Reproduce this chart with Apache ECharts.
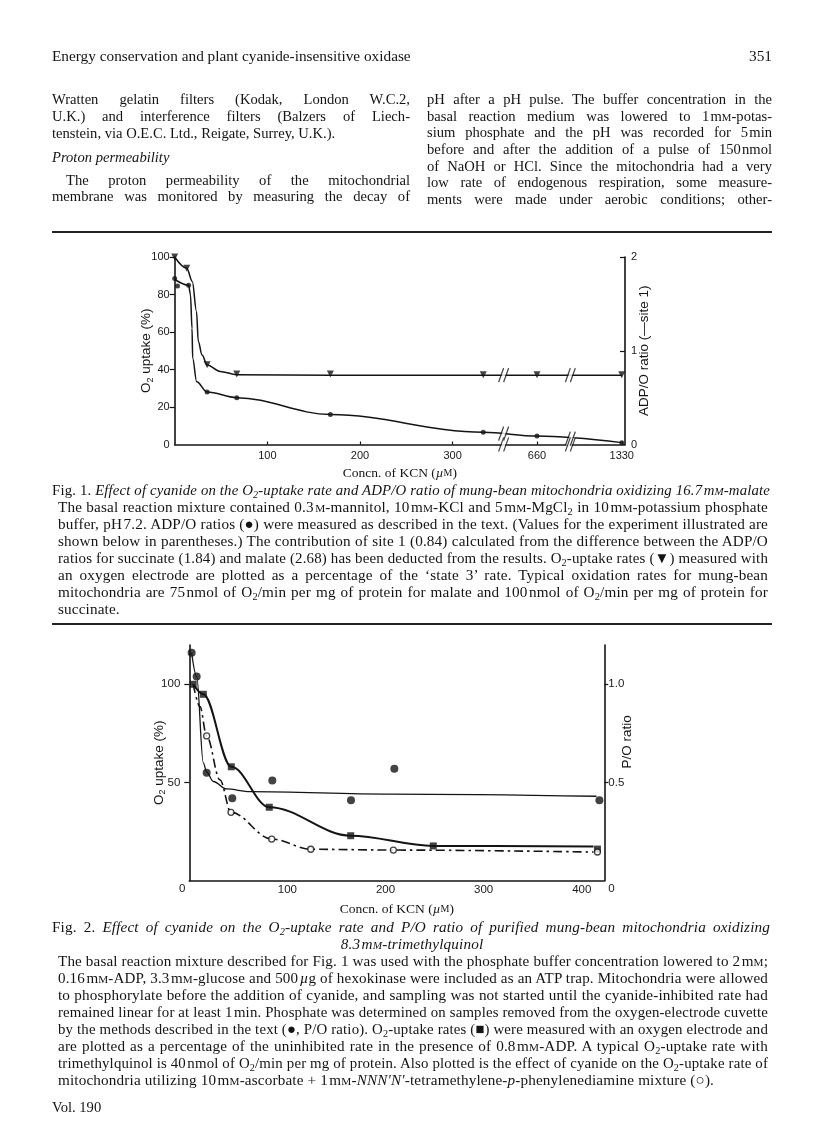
<!DOCTYPE html>
<html><head><meta charset="utf-8">
<script src="https://cdn.jsdelivr.net/npm/echarts@6/dist/echarts.min.js"></script>
<style>
html,body{margin:0;padding:0;background:#fff;}
#page{position:relative;width:816px;height:1136px;overflow:hidden;background:#fff;}
#chart{position:absolute;left:0;top:0;width:816px;height:1136px;}
.ln{position:absolute;white-space:nowrap;font-family:"Liberation Serif","Times New Roman",serif;color:#141414;line-height:18px;}
.body{font-size:14.6px;}
.head{font-size:15.3px;}
.cap{font-size:15.2px;letter-spacing:0.15px;}
.sc{font-size:0.74em;}
sub{font-size:0.68em;vertical-align:-0.32em;line-height:0;}
.rule{position:absolute;height:1.6px;background:#222;left:52px;width:720px;}
</style></head><body>
<div id="page">
<div id="chart"></div>

<div class="ln head" style="left:52px;top:47px;">Energy conservation and plant cyanide-insensitive oxidase</div>
<div class="ln head" data-right="772" style="top:47px;">351</div>

<div class="ln body" data-w="358" style="left:52px;top:90px;">Wratten gelatin filters (Kodak, London W.C.2,</div>
<div class="ln body" data-w="358" style="left:52px;top:107px;">U.K.) and interference filters (Balzers of Liech-</div>
<div class="ln body" style="left:52px;top:124px;">tenstein, via O.E.C. Ltd., Reigate, Surrey, U.K.).</div>
<div class="ln body" style="left:52px;top:148px;"><i>Proton permeability</i></div>
<div class="ln body" data-w="344" style="left:66px;top:171px;">The proton permeability of the mitochondrial</div>
<div class="ln body" data-w="358" style="left:52px;top:187px;">membrane was monitored by measuring the decay of</div>

<div class="ln body" data-w="345" style="left:427px;top:90px;">pH after a pH pulse. The buffer concentration in the</div>
<div class="ln body" data-w="345" style="left:427px;top:107px;">basal reaction medium was lowered to 1&#8202;m<span class="sc">M</span>-potas-</div>
<div class="ln body" data-w="345" style="left:427px;top:123px;">sium phosphate and the pH was recorded for 5&#8202;min</div>
<div class="ln body" data-w="345" style="left:427px;top:140px;">before and after the addition of a pulse of 150&#8202;nmol</div>
<div class="ln body" data-w="345" style="left:427px;top:157px;">of NaOH or HCl. Since the mitochondria had a very</div>
<div class="ln body" data-w="345" style="left:427px;top:173px;">low rate of endogenous respiration, some measure-</div>
<div class="ln body" data-w="345" style="left:427px;top:190px;">ments were made under aerobic conditions; other-</div>

<div class="rule" style="top:231px;"></div>

<div class="ln cap" data-w="718" style="left:52px;top:481px;">Fig. 1. <i>Effect of cyanide on the O<sub>2</sub>-uptake rate and ADP/O ratio of mung-bean mitochondria oxidizing 16.7&#8202;m<span class="sc">M</span>-malate</i></div>
<div class="ln cap" data-w="710" style="left:58px;top:498px;">The basal reaction mixture contained 0.3&#8202;<span class="sc">M</span>-mannitol, 10&#8202;m<span class="sc">M</span>-KCl and 5&#8202;m<span class="sc">M</span>-MgCl<sub>2</sub> in 10&#8202;m<span class="sc">M</span>-potassium phosphate</div>
<div class="ln cap" data-w="710" style="left:58px;top:515px;">buffer, pH&#8202;7.2. ADP/O ratios (●) were measured as described in the text. (Values for the experiment illustrated are</div>
<div class="ln cap" data-w="710" style="left:58px;top:532px;">shown below in parentheses.) The contribution of site 1 (0.84) calculated from the difference between the ADP/O</div>
<div class="ln cap" data-w="710" style="left:58px;top:549px;">ratios for succinate (1.84) and malate (2.68) has been deducted from the results. O<sub>2</sub>-uptake rates (▼) measured with</div>
<div class="ln cap" data-w="710" style="left:58px;top:566px;">an oxygen electrode are plotted as a percentage of the ‘state 3’ rate. Typical oxidation rates for mung-bean</div>
<div class="ln cap" data-w="710" style="left:58px;top:583px;">mitochondria are 75&#8202;nmol of O<sub>2</sub>/min per mg of protein for malate and 100&#8202;nmol of O<sub>2</sub>/min per mg of protein for</div>
<div class="ln cap" style="left:58px;top:600px;">succinate.</div>

<div class="rule" style="top:623px;"></div>

<div class="ln cap" data-w="718" style="left:52px;top:918px;">Fig. 2. <i>Effect of cyanide on the O<sub>2</sub>-uptake rate and P/O ratio of purified mung-bean mitochondria oxidizing</i></div>
<div class="ln cap" data-center="412" style="top:935px;"><i>8.3&#8202;m<span class="sc">M</span>-trimethylquinol</i></div>
<div class="ln cap" data-w="710" style="left:58px;top:952px;">The basal reaction mixture described for Fig. 1 was used with the phosphate buffer concentration lowered to 2&#8202;m<span class="sc">M</span>;</div>
<div class="ln cap" data-w="710" style="left:58px;top:969px;">0.16&#8202;m<span class="sc">M</span>-ADP, 3.3&#8202;m<span class="sc">M</span>-glucose and 500&#8202;<i>µ</i>g of hexokinase were included as an ATP trap. Mitochondria were allowed</div>
<div class="ln cap" data-w="710" style="left:58px;top:986px;">to phosphorylate before the addition of cyanide, and sampling was not started until the cyanide-inhibited rate had</div>
<div class="ln cap" data-w="710" style="left:58px;top:1003px;">remained linear for at least 1&#8202;min. Phosphate was determined on samples removed from the oxygen-electrode cuvette</div>
<div class="ln cap" data-w="710" style="left:58px;top:1020px;">by the methods described in the text (●, P/O ratio). O<sub>2</sub>-uptake rates (■) were measured with an oxygen electrode and</div>
<div class="ln cap" data-w="710" style="left:58px;top:1037px;">are plotted as a percentage of the uninhibited rate in the presence of 0.8&#8202;m<span class="sc">M</span>-ADP. A typical O<sub>2</sub>-uptake rate with</div>
<div class="ln cap" data-w="710" style="left:58px;top:1054px;">trimethylquinol is 40&#8202;nmol of O<sub>2</sub>/min per mg of protein. Also plotted is the effect of cyanide on the O<sub>2</sub>-uptake rate of</div>
<div class="ln cap" style="left:58px;top:1071px;">mitochondria utilizing 10&#8202;m<span class="sc">M</span>-ascorbate + 1&#8202;m<span class="sc">M</span>-<i>NNN′N′</i>-tetramethylene-<i>p</i>-phenylenediamine mixture (○).</div>

<div class="ln body" style="left:52px;top:1098px;">Vol. 190</div>
</div>

<script>
// ---------------- Fig. 1 data (KCN in µM) ----------------
// O2 uptake (%) -- triangles
const f1TriKcn = [0, 13, 35, 67, 168, 333, 660, 1330];
const f1TriO2 = [100, 94, 42.5, 37.6, 37.6, 37.2, 37.2, 37.2];
// drawn curve through triangles
const f1TriCurveKcn = [0, 13, 19, 23.5, 25.5, 29.5, 35, 49, 67, 168, 333, 660, 1330];
const f1TriCurveO2 = [100, 94, 87, 71, 55, 47.7, 42.4, 39, 37.2, 37, 37, 37, 37];
// ADP/O ratio (-site 1) -- circles
const f1CirKcn = [0, 3, 15, 35, 67, 168, 333, 660, 1330];
const f1CirRatio = [1.77, 1.69, 1.70, 0.56, 0.50, 0.32, 0.13, 0.09, 0.02];
const f1CirCurveKcn = [0, 15, 17, 18.7, 19.4, 23.7, 35, 67, 168, 333, 660, 1330];
const f1CirCurveRatio = [1.76, 1.70, 1.60, 1.24, 0.92, 0.67, 0.56, 0.50, 0.32, 0.13, 0.09, 0.02];
const f1XTickLabels = [100, 200, 300, 660, 1330];
const f1YTicks = [0, 20, 40, 60, 80, 100];
const f1RightTicks = [0, 1, 2];

// ---------------- Fig. 2 data (KCN in µM) ----------------
// P/O ratio -- filled circles
const f2PoKcn = [2.4, 7.5, 17.7, 43.8, 84.6, 164.8, 209, 418];
const f2PoRatio = [1.16, 1.04, 0.55, 0.42, 0.51, 0.41, 0.57, 0.41];
const f2PoCurveKcn = [2.4, 7.5, 14.3, 17.7, 24.5, 38, 62, 205, 415];
const f2PoCurveRatio = [1.16, 1.04, 0.60, 0.553, 0.505, 0.467, 0.453, 0.441, 0.43];
// O2 uptake (%) -- filled squares
const f2SqKcn = [4, 14.3, 42.8, 81.5, 164.5, 248.7, 416];
const f2SqO2 = [100, 94.9, 58, 37.4, 22.9, 17.7, 16.1];
const f2SqCurveKcn = [4, 14.3, 42.8, 81.5, 164.5, 248.7, 412];
const f2SqCurveO2 = [100, 94.9, 58, 37.4, 22.9, 17.7, 17.4];
// O2 uptake (%) with ascorbate + TMPD -- open circles
const f2OcKcn = [17.7, 42.5, 84, 123.8, 208, 416];
const f2OcO2 = [73.7, 34.8, 21.2, 16, 15.6, 14.6];
const f2OcCurveKcn = [4, 10.9, 17.7, 31.3, 42.5, 84, 123.8, 208, 412];
const f2OcCurveO2 = [100, 88.6, 73.7, 51.3, 34.8, 21.2, 16, 15.6, 14.6];
const f2XTicks = [100, 200, 300, 400];
const f2YTicks = [0, 50, 100];
const f2RightTicks = [0, 0.5, 1.0];

// ---------------- layout helpers ----------------
// Fig. 1 has a broken concentration axis: each run of KCN values is laid on the axis at 'at'
const F1_SEGMENTS = [
  {from: 0, to: 350, at: 0},
  {from: 640, to: 680, at: 371},
  {from: 1310, to: 1340, at: 462.5}
];
const F1_AXIS_MAX = 486;
const F1_BREAK_AT = [355, 427]; // where the // break marks sit along the broken axis
function f1x(v) {
  for (const s of F1_SEGMENTS) if (v >= s.from && v <= s.to) return s.at + (v - s.from);
  return v;
}
function zip(xs, ys, fx) { return xs.map((x, i) => [fx ? fx(x) : x, ys[i]]); }
function interp(pts, x) {
  for (let i = 0; i < pts.length - 1; i++) {
    if (x >= pts[i][0] && x <= pts[i + 1][0]) {
      const t = (x - pts[i][0]) / (pts[i + 1][0] - pts[i][0]);
      return pts[i][1] + t * (pts[i + 1][1] - pts[i][1]);
    }
  }
  return pts[pts.length - 1][1];
}

const INK = '#141414';
const SANS = '"Liberation Sans", Arial, sans-serif';
const SERIF = '"Liberation Serif", "Times New Roman", serif';
const labelStyle = {fontFamily: SANS, fontSize: 11, color: '#1a1a1a'};
const nameRich = {
  s: {fontFamily: SANS, fontSize: 9, color: INK, verticalAlign: 'bottom', padding: [7, 0, 0, 0]}
};
const axLine = {show: true, lineStyle: {color: INK, width: 1.6}};
const kcnName = {
  name: 'Concn. of KCN ({i|µ}{sc|M})', nameLocation: 'middle', nameGap: 22, nameMoveOverlap: false,
  nameTextStyle: {fontFamily: SERIF, fontSize: 13.5, color: INK,
    rich: {i: {fontFamily: SERIF, fontSize: 13.5, fontStyle: 'italic', color: INK}, sc: {fontFamily: SERIF, fontSize: 10, color: INK}}}
};

const f1TriCurve = zip(f1TriCurveKcn, f1TriCurveO2, f1x);
const f1CirCurve = zip(f1CirCurveKcn, f1CirCurveRatio, f1x);
const f1XPos = f1XTickLabels.map(f1x);

function breakSeries(xAxisIndex, yAxisIndex, pts) {
  return [{
    type: 'scatter', xAxisIndex, yAxisIndex, data: pts, silent: true, z: 5,
    symbol: 'path://M1,14 L6,0 L9,0 L4,14 Z', symbolSize: [10, 14],
    itemStyle: {color: '#fff', borderWidth: 0}
  }, {
    type: 'scatter', xAxisIndex, yAxisIndex, data: pts, silent: true, z: 6,
    symbol: 'path://M0,14 L5,0 M5,14 L10,0', symbolSize: [10, 14],
    itemStyle: {color: 'transparent', borderColor: INK, borderWidth: 1.4}
  }];
}

const chart = echarts.init(document.getElementById('chart'));
const curve = (x, y, data, w, extra) => Object.assign({
  type: 'line', xAxisIndex: x, yAxisIndex: y, data, showSymbol: false, symbol: 'none',
  smooth: 0.35, smoothMonotone: 'x', clip: false, silent: true, z: 3,
  lineStyle: {color: INK, width: w}
}, extra || {});
const marks = (x, y, data, symbol, size, extra) => Object.assign({
  type: 'scatter', xAxisIndex: x, yAxisIndex: y, data, symbol, symbolSize: size, silent: true, z: 4,
  itemStyle: {color: INK}
}, extra || {});

chart.setOption({
  animation: false,
  backgroundColor: 'transparent',
  grid: [
    {left: 174.7, top: 257, width: 450.3, height: 187.5, containLabel: false},
    {left: 189.3, top: 645, width: 415, height: 235.7, containLabel: false}
  ],
  xAxis: [Object.assign({
    type: 'value', gridIndex: 0, min: 0, max: F1_AXIS_MAX,
    axisLine: axLine, splitLine: {show: false},
    axisTick: {show: true, inside: true, length: 3, lineStyle: {color: INK, width: 1.2}, customValues: f1XPos},
    axisLabel: {customValues: f1XPos, margin: 6, ...labelStyle,
      formatter: v => { let b = 0; f1XPos.forEach((p, i) => { if (Math.abs(p - v) < Math.abs(f1XPos[b] - v)) b = i; }); return String(f1XTickLabels[b]); }}
  }, kcnName), Object.assign({
    type: 'value', gridIndex: 1, min: 0, max: 423,
    axisLine: axLine, splitLine: {show: false},
    axisTick: {show: false},
    axisLabel: {customValues: f2XTicks, margin: 3, ...labelStyle, fontSize: 11.5}
  }, kcnName)],
  yAxis: [{
    type: 'value', gridIndex: 0, min: 0, max: 100, interval: 20, position: 'left',
    axisLine: axLine, splitLine: {show: false},
    axisTick: {show: true, length: 5, lineStyle: {color: INK, width: 1.2}, customValues: f1YTicks.filter(v => v > 0)},
    axisLabel: {customValues: f1YTicks, margin: 5, ...labelStyle},
    name: 'O{s|2} uptake (%)', nameLocation: 'middle', nameGap: 20, nameMoveOverlap: false,
    nameTextStyle: {fontFamily: SANS, fontSize: 13.5, color: INK, rich: nameRich}
  }, {
    type: 'value', gridIndex: 0, min: 0, max: 2, interval: 1, position: 'right',
    axisLine: axLine, splitLine: {show: false},
    axisTick: {show: true, inside: true, length: 5, lineStyle: {color: INK, width: 1.2}, customValues: [1, 2]},
    axisLabel: {customValues: f1RightTicks, margin: 6, ...labelStyle},
    name: 'ADP/O ratio (—site 1)', nameLocation: 'middle', nameGap: 12, nameMoveOverlap: false,
    nameTextStyle: {fontFamily: SANS, fontSize: 13.5, color: INK}
  }, {
    type: 'value', gridIndex: 1, min: 0, max: 120, position: 'left',
    axisLine: axLine, splitLine: {show: false},
    axisTick: {show: true, length: 5, lineStyle: {color: INK, width: 1.2}, customValues: [50, 100]},
    axisLabel: {customValues: f2YTicks, margin: 9, ...labelStyle, fontSize: 11.5,
      formatter: v => v === 0 ? '{z|0}' : String(v),
      rich: {z: {fontFamily: SANS, fontSize: 11.5, color: '#1a1a1a', padding: [16, -5, 0, 0]}}},
    name: 'O{s|2} uptake (%)', nameLocation: 'middle', nameGap: 22, nameMoveOverlap: false,
    nameTextStyle: {fontFamily: SANS, fontSize: 13.5, color: INK, rich: nameRich}
  }, {
    type: 'value', gridIndex: 1, min: 0, max: 1.2, position: 'right',
    axisLine: axLine, splitLine: {show: false},
    axisTick: {show: true, length: 4, lineStyle: {color: INK, width: 1.2}, customValues: [0.5, 1.0]},
    axisLabel: {customValues: f2RightTicks, margin: 4, ...labelStyle, fontSize: 11.5,
      formatter: v => v === 0 ? '{z|0}' : v.toFixed(1),
      rich: {z: {fontFamily: SANS, fontSize: 11.5, color: '#1a1a1a', padding: [16, 0, 0, 0]}}},
    name: 'P/O ratio', nameLocation: 'middle', nameGap: 16, nameMoveOverlap: false,
    nameTextStyle: {fontFamily: SANS, fontSize: 13.5, color: INK, padding: [0, 0, 0, 42]}
  }],
  series: [
    // Fig. 1
    curve(0, 0, f1TriCurve, 1.5),
    curve(0, 1, f1CirCurve, 1.5),
    ...breakSeries(0, 0, F1_BREAK_AT.map(p => [p, interp(f1TriCurve, p)])),
    ...breakSeries(0, 1, F1_BREAK_AT.map(p => [p, interp(f1CirCurve, p)])),
    ...breakSeries(0, 0, F1_BREAK_AT.map(p => [p, 0])),
    marks(0, 0, zip(f1TriKcn, f1TriO2, f1x), 'triangle', 7, {symbolRotate: 180}),
    marks(0, 1, zip(f1CirKcn, f1CirRatio, f1x), 'circle', 5),
    // Fig. 2
    curve(1, 3, zip(f2PoCurveKcn, f2PoCurveRatio), 1.3),
    curve(1, 2, zip(f2SqCurveKcn, f2SqCurveO2), 2.0),
    curve(1, 2, zip(f2OcCurveKcn, f2OcCurveO2), 1.6, {lineStyle: {color: INK, width: 1.6, type: [9, 4, 2.5, 4]}}),
    marks(1, 3, zip(f2PoKcn, f2PoRatio), 'circle', 8),
    marks(1, 2, zip(f2SqKcn, f2SqO2), 'rect', 7),
    marks(1, 2, zip(f2OcKcn, f2OcO2), 'circle', 6, {itemStyle: {color: '#fff', borderColor: INK, borderWidth: 1.3}})
  ]
});

// text line fitting (justification like the printed page)
function fitLines() {
  document.querySelectorAll('.ln').forEach(el => {
    const nat = el.getBoundingClientRect().width;
    if (el.dataset.right) { el.style.left = (+el.dataset.right - nat) + 'px'; return; }
    if (el.dataset.center) { el.style.left = (+el.dataset.center - nat / 2) + 'px'; return; }
    if (!el.dataset.w) return;
    const W = +el.dataset.w;
    if (nat > W) {
      el.style.transformOrigin = '0 0';
      el.style.transform = 'scaleX(' + (W / nat) + ')';
    } else {
      const spaces = (el.textContent.match(/ /g) || []).length;
      if (spaces) el.style.wordSpacing = ((W - nat) / spaces) + 'px';
    }
  });
}
if (document.fonts && document.fonts.ready) document.fonts.ready.then(fitLines); else fitLines();
</script>
</body></html>
